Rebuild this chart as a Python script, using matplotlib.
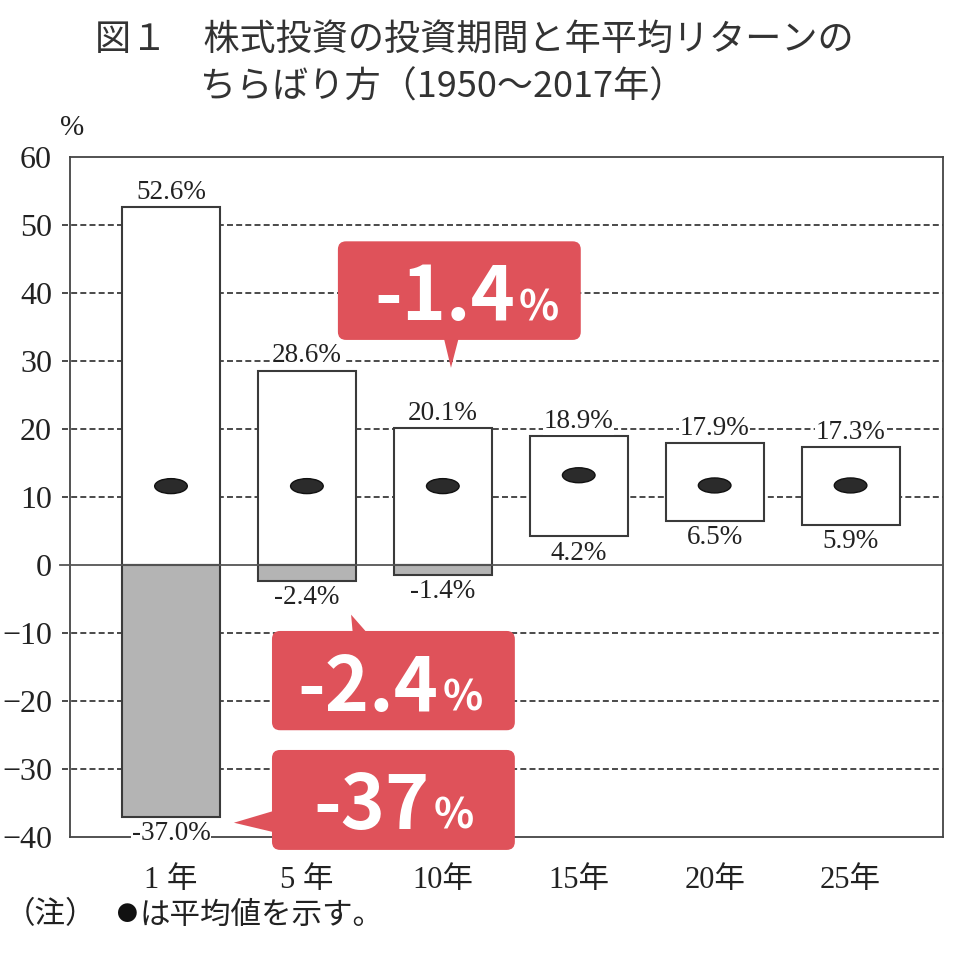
import numpy as np
import matplotlib
matplotlib.use("Agg")
import matplotlib.pyplot as plt
from matplotlib.patches import FancyBboxPatch, Polygon, Ellipse

# ---------- データ ----------
periods = ["1 年", "5 年", "10年", "15年", "20年", "25年"]
max_ret = [52.6, 28.6, 20.1, 18.9, 17.9, 17.3]
min_ret = [-37.0, -2.4, -1.4, 4.2, 6.5, 5.9]
mean_ret = [11.6, 11.6, 11.6, 13.2, 11.7, 11.7]
y_ticks = [60, 50, 40, 30, 20, 10, 0, -10, -20, -30, -40]
grid_ticks = [50, 40, 30, 20, 10, -10, -20, -30]

callout_texts = ["-1.4", "-2.4", "-37"]

# 吹き出しの配置（データ座標）
callout_layout = [
    {"box": (1.228, 33.1, 1.787, 14.5), "tri": [(2.00, 34.0), (2.125, 34.0), (2.06, 29.0)],
     "split": 2.53, "base": 36.0},
    {"box": (0.743, -24.3, 1.787, 14.6), "tri": [(1.34, -10.6), (1.47, -10.6), (1.325, -7.3)],
     "split": 1.97, "base": -21.4},
    {"box": (0.743, -41.9, 1.787, 14.7), "tri": [(0.80, -35.9), (0.80, -39.5), (0.463, -37.9)],
     "split": 1.90, "base": -38.8},
]

JP = "Noto Sans CJK JP"
SERIF = ["Liberation Serif", "Noto Sans CJK JP"]
RED = "#df525a"
EDGE = "#3a3a3a"
TXT = "#222222"

plt.rcParams["lines.scale_dashes"] = False

fig = plt.figure(figsize=(9.6, 9.74), dpi=100)
ax = fig.add_axes([70 / 960, 1 - 837 / 974, 873 / 960, 680 / 974])
ax.set_xlim(-0.743, 5.68)
ax.set_ylim(-40, 60)

# グリッド（目盛の外側まで少しはみ出す）
for t in grid_ticks:
    ax.plot([-0.009, 1], [t, t], transform=ax.get_yaxis_transform(), color="#4a4a4a",
            lw=1.4, dashes=(4.3, 2.3), clip_on=False, zorder=1)
ax.plot([-0.011, 1], [0, 0], transform=ax.get_yaxis_transform(), color="#555555",
        lw=1.3, clip_on=False, zorder=5.5)

# 棒（最大〜最小のレンジ）
x = np.arange(len(periods))
for i in x:
    hi, lo = max_ret[i], min_ret[i]
    bottom = max(lo, 0)
    ax.bar(i, hi - bottom, bottom=bottom, width=0.72, color="white",
           edgecolor=EDGE, lw=1.5, zorder=2)
    if lo < 0:
        ax.bar(i, -lo, bottom=lo, width=0.72, color="#b4b4b4",
               edgecolor=EDGE, lw=1.5, zorder=2)
    ax.add_patch(Ellipse((i, mean_ret[i]), width=0.24, height=2.2,
                         facecolor="#2b2b2b", edgecolor="#111111", lw=1, zorder=4))
    lbl_box = dict(facecolor="white", edgecolor="none", pad=0.5)
    ax.annotate(f"{hi:.1f}%", (i, hi), xytext=(0, 2), textcoords="offset points",
                ha="center", va="bottom", fontsize=19.5, family=SERIF, color=TXT,
                bbox=lbl_box, zorder=5)
    ax.annotate(f"{lo:.1f}%", (i, lo), xytext=(0, -3), textcoords="offset points",
                ha="center", va="top", fontsize=19.5, family=SERIF, color=TXT,
                bbox=lbl_box, zorder=5, annotation_clip=False)

# 軸
ax.set_yticks(y_ticks)
ax.set_xticks(x)
ax.set_xticklabels(periods)
ax.tick_params(axis="both", length=0, colors=TXT)
ax.tick_params(axis="y", pad=13, labelsize=23)
ax.tick_params(axis="x", pad=21, labelsize=22)
for lbl in ax.get_yticklabels() + ax.get_xticklabels():
    lbl.set_fontfamily(SERIF)
for s in ax.spines.values():
    s.set_color("#444444")
    s.set_linewidth(1.3)
    s.set_zorder(3)

# 吹き出し
for txt, lay in zip(callout_texts, callout_layout):
    bx, by, bw, bh = lay["box"]
    ax.add_patch(FancyBboxPatch((bx, by), bw, bh,
                                boxstyle="round,pad=0,rounding_size=0.06",
                                mutation_aspect=20, facecolor=RED, edgecolor="none",
                                clip_on=False, zorder=6))
    ax.add_patch(Polygon(lay["tri"], closed=True, facecolor=RED, edgecolor="none",
                         clip_on=False, zorder=6))
    ax.text(lay["split"], lay["base"], txt, ha="right", va="baseline", fontsize=54,
            weight="bold", color="white", family=JP, zorder=7, clip_on=False)
    ax.text(lay["split"] + 0.03, lay["base"], "%", ha="left", va="baseline", fontsize=30,
            weight="bold", color="white", family=JP, zorder=7, clip_on=False)

# タイトル・注記
fig.text(95 / 960, 1 - 40 / 974, "図１　株式投資の投資期間と年平均リターンの",
         fontsize=26, family=JP, color="#333333", va="center", ha="left")
fig.text(200 / 960, 1 - 88 / 974, "ちらばり方（1950～2017年）",
         fontsize=26, family=JP, color="#333333", va="center", ha="left")
fig.text(72 / 960, 1 - 128 / 974, "%", fontsize=21, family=SERIF, color=TXT,
         va="center", ha="center")
fig.text(5 / 960, 1 - 915 / 974, "（注）", fontsize=22, family=JP, color=TXT,
         va="center", ha="left")
fig.text(127 / 960, 1 - 915 / 974, "●", fontsize=15, family=JP, color="#111111",
         va="center", ha="center")
fig.text(139 / 960, 1 - 915 / 974, "は平均値を示す。", fontsize=22, family=JP,
         color=TXT, va="center", ha="left")

fig.savefig("out.png", dpi=100)
